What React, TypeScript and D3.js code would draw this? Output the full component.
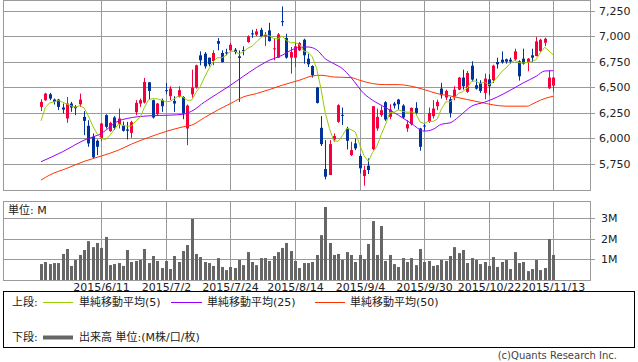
import { useEffect, useRef } from "react";
import * as d3 from "d3";

// one entry per trading day, 2015/5/22 .. 2015/11/13
const opens = [
  6307, 6373, 6431, 6379, 6379, 6301, 6193, 6340, 6307, 6333,
  6209, 6121, 6013, 5974, 5997, 6226, 6069, 6203, 6137, 6121,
  6085, 6052, 6255, 6340, 6350, 6549, 6373, 6235, 6373, 6471,
  6412, 6366, 6405, 6405, 6095, 6431, 6497, 6814, 6830, 6791,
  6758, 6954, 6837, 6843, 6863, 6869, 6804, 6866, 6945, 7030,
  7016, 7065, 7000, 7059, 6877, 6791, 7150, 6984, 6791, 6791,
  6863, 6967, 6781, 6709, 6497, 6101, 5696, 5637, 5987, 6160,
  6229, 6095, 5833, 5948, 5824, 5627, 5729, 5892, 6095, 6226,
  6353, 6209, 6340, 6379, 6320, 6095, 6137, 6297, 6095, 6124,
  6160, 6216, 6314, 6487, 6399, 6382, 6399, 6477, 6595, 6454,
  6712, 6520, 6543, 6445, 6578, 6569, 6748, 6771, 6775, 6771,
  6775, 6755, 6781, 6748, 6814, 6807, 6856, 6938, 6490, 6516,
];
const highs = [
  6382, 6445, 6445, 6389, 6386, 6340, 6405, 6356, 6324, 6438,
  6265, 6176, 6046, 5987, 6150, 6235, 6160, 6216, 6291, 6163,
  6160, 6170, 6373, 6389, 6592, 6552, 6379, 6346, 6389, 6543,
  6510, 6412, 6510, 6412, 6330, 6673, 6722, 6853, 6846, 6791,
  6863, 6984, 6863, 6879, 6935, 6886, 6863, 6902, 7010, 7065,
  7075, 7085, 7043, 7134, 6984, 7033, 7294, 7026, 6896, 6945,
  6945, 6977, 6830, 6716, 6503, 6216, 5980, 5980, 6046, 6333,
  6301, 6111, 5964, 5997, 5843, 5729, 5801, 6314, 6291, 6314,
  6363, 6333, 6356, 6386, 6333, 6176, 6301, 6353, 6101, 6144,
  6301, 6373, 6379, 6543, 6477, 6405, 6510, 6601, 6673, 6660,
  6755, 6585, 6569, 6634, 6628, 6722, 6791, 6853, 6781, 6791,
  6879, 6765, 6879, 6788, 6879, 6994, 6977, 6987, 6667, 6601,
];
const lows = [
  6265, 6366, 6373, 6330, 6275, 6242, 6150, 6258, 6226, 6307,
  6029, 5915, 5801, 5833, 5971, 6095, 6062, 6079, 6095, 6065,
  5987, 6003, 6226, 6307, 6340, 6382, 6193, 6222, 6258, 6431,
  6373, 6258, 6399, 6186, 5931, 6399, 6487, 6716, 6683, 6706,
  6716, 6863, 6742, 6814, 6856, 6824, 6356, 6814, 6938, 6987,
  7003, 6994, 6905, 6948, 6765, 6791, 7101, 6781, 6634, 6699,
  6856, 6732, 6699, 6595, 6340, 5922, 5595, 5637, 5964, 6150,
  6128, 5889, 5824, 5882, 5654, 5533, 5647, 5882, 6072, 6209,
  6170, 6186, 6291, 6275, 6193, 6062, 6124, 6232, 5876, 6072,
  6150, 6193, 6275, 6389, 6373, 6203, 6373, 6471, 6477, 6445,
  6556, 6477, 6445, 6382, 6422, 6543, 6683, 6732, 6732, 6732,
  6758, 6565, 6722, 6657, 6748, 6804, 6846, 6905, 6484, 6454,
];
const closes = [
  6356, 6438, 6389, 6356, 6307, 6281, 6340, 6301, 6294, 6379,
  6170, 5948, 5811, 5915, 6144, 6111, 6150, 6101, 6193, 6072,
  6072, 6157, 6346, 6373, 6552, 6464, 6203, 6340, 6314, 6464,
  6487, 6340, 6471, 6242, 6320, 6497, 6716, 6765, 6706, 6726,
  6837, 6928, 6748, 6837, 6918, 6846, 6788, 6860, 7000, 7023,
  7049, 7000, 7016, 6954, 6883, 7020, 7144, 6791, 6846, 6902,
  6935, 6814, 6726, 6618, 6346, 5941, 5621, 5941, 6020, 6324,
  6222, 5974, 5882, 5899, 5703, 5686, 5686, 6314, 6209, 6275,
  6183, 6281, 6320, 6333, 6203, 6137, 6297, 6248, 5915, 6118,
  6248, 6291, 6356, 6422, 6464, 6248, 6477, 6595, 6510, 6641,
  6575, 6487, 6464, 6585, 6510, 6712, 6726, 6745, 6752, 6752,
  6853, 6608, 6732, 6781, 6791, 6951, 6967, 6977, 6595, 6595,
];
// volume, millions
const volumes = [
  0.77, 0.87, 0.77, 0.82, 0.82, 1.26, 1.5, 0.68, 0.97, 1.21,
  1.45, 1.88, 1.59, 1.79, 1.55, 2.08, 0.72, 0.77, 0.82, 0.68,
  1.45, 0.87, 0.92, 0.97, 1.5, 0.82, 1.16, 0.92, 0.58, 0.92,
  0.53, 1.16, 0.87, 1.4, 1.69, 2.95, 1.26, 1.11, 0.87, 0.82,
  0.68, 1.06, 0.63, 0.48, 0.63, 0.58, 0.97, 0.72, 1.35, 0.87,
  0.72, 1.06, 1.06, 0.92, 1.16, 1.35, 1.55, 1.79, 1.4, 0.92,
  0.58, 0.82, 0.82, 0.87, 1.21, 2.17, 3.53, 1.79, 1.21, 1.26,
  0.97, 1.35, 1.21, 0.87, 1.21, 1.01, 1.74, 2.85, 1.21, 2.61,
  0.92, 1.21, 0.77, 0.63, 1.06, 0.87, 1.06, 0.72, 1.5, 0.87,
  0.92, 0.68, 0.72, 0.97, 0.92, 1.16, 1.59, 1.3, 1.45, 0.82,
  1.06, 0.97, 0.77, 0.87, 0.68, 1.11, 0.63, 0.87, 0.97, 0.53,
  1.35, 0.82, 0.87, 0.43, 0.53, 0.97, 0.48, 0.58, 1.98, 1.21,
];

// 5-day average for the first days (window starts before the chart)
const ma5Head = [6170, 6301, 6346, 6356];

// 25 / 50 day averages
const ma25Days = [0, 5, 10, 14, 18, 20, 25, 30, 33, 35, 38, 41, 44, 47, 50, 53, 56, 58, 60, 62, 64, 66, 68, 70, 72, 75, 77, 80, 83, 86, 89, 91, 93, 95, 97, 100, 103, 106, 109, 112, 115, 117, 119];
const ma25Vals = [5768, 5866, 5980, 6046, 6170, 6193, 6219, 6226, 6235, 6265, 6356, 6438, 6520, 6608, 6693, 6765, 6814, 6863, 6892, 6896, 6869, 6781, 6732, 6683, 6595, 6438, 6373, 6301, 6226, 6144, 6069, 6085, 6137, 6150, 6209, 6314, 6353, 6405, 6471, 6543, 6608, 6660, 6663];
const ma50Days = [0, 2, 6, 10, 14, 18, 21, 25, 29, 33, 35, 38, 41, 44, 47, 50, 53, 56, 60, 63, 65, 68, 72, 74, 77, 80, 83, 86, 89, 92, 95, 99, 102, 105, 108, 113, 114, 116, 118, 119];
const ma50Vals = [5588, 5637, 5703, 5771, 5824, 5882, 5941, 6007, 6065, 6111, 6128, 6203, 6275, 6340, 6405, 6438, 6477, 6520, 6569, 6611, 6618, 6601, 6595, 6569, 6536, 6526, 6526, 6510, 6477, 6438, 6415, 6379, 6353, 6327, 6314, 6314, 6333, 6373, 6402, 6412];

const tickDays = [14, 29, 44, 59, 74, 89, 104, 119];
const tickLabels = ["2015/6/11", "2015/7/2", "2015/7/24", "2015/8/14", "2015/9/4", "2015/9/30", "2015/10/22", "2015/11/13"];
const priceTicks = [5750, 6000, 6250, 6500, 6750, 7000, 7250];
const volTicks = [1, 2, 3];

const UP = "#f5003d";
const DOWN = "#00339a";
const GRID = "#9a9a9a";
const TEXT = "#222";

export default function App() {
  const ref = useRef<SVGSVGElement>(null);

  useEffect(() => {
    if (!ref.current) return;
    const svg = d3.select(ref.current);
    svg.selectAll("*").remove();

    const cr = (v: number) => Math.round(v) + 0.5;

    const x = d3.scaleLinear().domain([-8.83, 127.5]).range([3, 590]);
    const y = d3.scaleLinear().domain([5490, 7353]).range([190, 0.5]);
    const yv = d3.scaleLinear().domain([0, 3.82]).range([280, 201]);

    const fmt = d3.format(",");

    // panel frames
    [[0, 190], [201, 280]].forEach(([t, b]) => {
      svg.append("rect")
        .attr("x", 3.5).attr("y", t + 0.5)
        .attr("width", 587).attr("height", b - t)
        .attr("fill", "none").attr("stroke", GRID);
    });

    // horizontal grid + price labels
    priceTicks.forEach(p => {
      const yy = cr(y(p));
      svg.append("line").attr("x1", 3).attr("x2", 595).attr("y1", yy).attr("y2", yy)
        .attr("stroke", GRID);
      svg.append("text").attr("x", 599).attr("y", yy).attr("dy", "0.35em")
        .attr("font-size", 11).attr("fill", TEXT).text(fmt(p));
    });
    volTicks.forEach(v => {
      const yy = cr(yv(v));
      svg.append("line").attr("x1", 3).attr("x2", 595).attr("y1", yy).attr("y2", yy)
        .attr("stroke", GRID);
      svg.append("text").attr("x", 601).attr("y", yy).attr("dy", "0.35em")
        .attr("font-size", 11).attr("fill", TEXT).text(`${v}M`);
    });

    // vertical grid + date labels
    tickDays.forEach((d, k) => {
      const xx = cr(x(d));
      svg.append("line").attr("x1", xx).attr("x2", xx).attr("y1", 0).attr("y2", 190).attr("stroke", GRID);
      svg.append("line").attr("x1", xx).attr("x2", xx).attr("y1", 201).attr("y2", 280).attr("stroke", GRID);
      svg.append("text").attr("x", xx).attr("y", 291).attr("text-anchor", "middle")
        .attr("font-size", 11).attr("fill", TEXT).text(tickLabels[k]);
    });

    svg.append("text").attr("x", 8).attr("y", 214).attr("font-size", 11).attr("fill", TEXT).text("単位: M");

    // volume bars
    svg.append("g").selectAll("rect").data(volumes).join("rect")
      .attr("x", (v, i) => Math.round(x(i)) - 1)
      .attr("width", 3)
      .attr("y", v => yv(v))
      .attr("height", v => 280 - yv(v))
      .attr("fill", "#666");

    // candles
    const idx = d3.range(closes.length);
    const g = svg.append("g");
    g.selectAll("line").data(idx).join("line")
      .attr("x1", i => cr(x(i))).attr("x2", i => cr(x(i)))
      .attr("y1", i => y(highs[i])).attr("y2", i => y(lows[i]))
      .attr("stroke", i => closes[i] >= opens[i] ? UP : DOWN);
    g.selectAll("rect").data(idx).join("rect")
      .attr("x", i => Math.round(x(i)) - 1)
      .attr("width", 3)
      .attr("y", i => y(Math.max(opens[i], closes[i])))
      .attr("height", i => Math.max(1, Math.abs(y(opens[i]) - y(closes[i]))))
      .attr("fill", i => closes[i] >= opens[i] ? UP : DOWN);

    // moving averages
    const ma5 = idx.map(i => i < 4 ? ma5Head[i] : d3.mean(closes.slice(i - 4, i + 1)) as number);
    const line = d3.line<[number, number]>().x(d => x(d[0])).y(d => y(d[1]));
    const smooth = d3.line<[number, number]>().x(d => x(d[0])).y(d => y(d[1])).curve(d3.curveMonotoneX);

    svg.append("path").datum(ma50Days.map((d, k) => [d, ma50Vals[k]] as [number, number]))
      .attr("d", smooth).attr("fill", "none").attr("stroke", "#ff3300").attr("stroke-width", 1);
    svg.append("path").datum(ma25Days.map((d, k) => [d, ma25Vals[k]] as [number, number]))
      .attr("d", smooth).attr("fill", "none").attr("stroke", "#9900ff").attr("stroke-width", 1);
    svg.append("path").datum(ma5.map((v, i) => [i, v] as [number, number]))
      .attr("d", line).attr("fill", "none").attr("stroke", "#99cc00").attr("stroke-width", 1);

    // legend
    svg.append("rect").attr("x", 3.5).attr("y", 291.5).attr("width", 631).attr("height", 56)
      .attr("fill", "none").attr("stroke", "#000");
    const row1 = 302, row2 = 337;
    const leg = [
      { x1: 43, x2: 73, tx: 79, y: row1, color: "#99cc00", w: 1, label: "単純移動平均(5)" },
      { x1: 171, x2: 202, tx: 207, y: row1, color: "#9900ff", w: 1, label: "単純移動平均(25)" },
      { x1: 315, x2: 345, tx: 350, y: row1, color: "#ff3300", w: 1, label: "単純移動平均(50)" },
      { x1: 43, x2: 73, tx: 79, y: row2, color: "#666", w: 4, label: "出来高 単位:(M株/口/枚)" },
    ];
    svg.append("text").attr("x", 12).attr("y", row1).attr("dy", "0.35em").attr("font-size", 11).attr("fill", TEXT).text("上段:");
    svg.append("text").attr("x", 12).attr("y", row2).attr("dy", "0.35em").attr("font-size", 11).attr("fill", TEXT).text("下段:");
    leg.forEach(l => {
      svg.append("line").attr("x1", l.x1).attr("x2", l.x2).attr("y1", cr(l.y)).attr("y2", cr(l.y))
        .attr("stroke", l.color).attr("stroke-width", l.w);
      svg.append("text").attr("x", l.tx).attr("y", l.y).attr("dy", "0.35em")
        .attr("font-size", 11).attr("fill", TEXT).text(l.label);
    });

    svg.append("text").attr("x", 617).attr("y", 359).attr("text-anchor", "end")
      .attr("font-size", 10).attr("fill", "#444").text("(c)Quants Research Inc.");
  }, []);

  return (
    <>
      <style>{"body{margin:0}"}</style>
      <svg ref={ref} width={638} height={362}
        style={{ display: "block", fontFamily: "'DejaVu Sans', 'Noto Sans CJK JP', sans-serif" }} />
    </>
  );
}
